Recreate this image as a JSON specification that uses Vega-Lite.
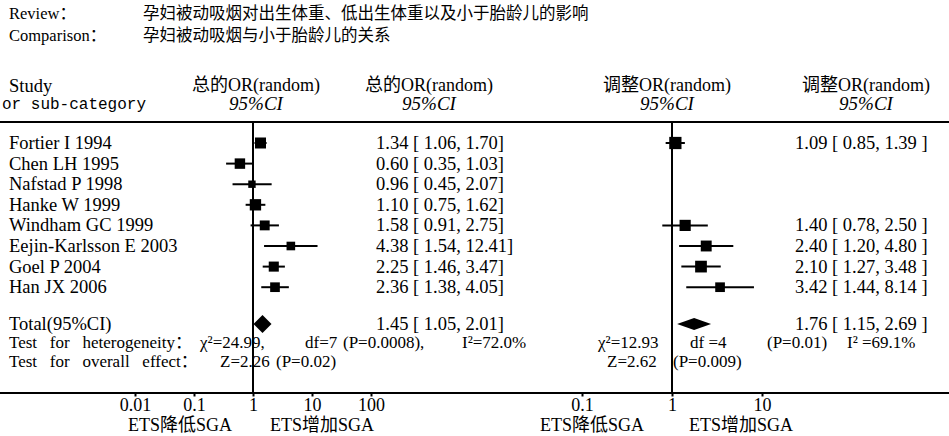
{
  "$schema": "https://vega.github.io/schema/vega-lite/v6.json",
  "width": 949,
  "height": 393,
  "autosize": {"type": "none"},
  "padding": {"left": 0, "top": 0, "right": 0, "bottom": 43},
  "background": "white",
  "config": {
    "view": {"stroke": null},
    "text": {"font": "Liberation Serif, Noto Sans CJK SC", "fontSize": 18.5, "color": "black", "baseline": "middle"}
  },
  "datasets": {
    "left": [
      {"study": "Fortier I 1994", "line": 5, "or": 1.34, "lo": 1.06, "hi": 1.70, "weight": 15.5, "label": "1.34 [ 1.06, 1.70]"},
      {"study": "Chen LH 1995", "line": 6, "or": 0.60, "lo": 0.35, "hi": 1.03, "weight": 14, "label": "0.60 [ 0.35, 1.03]"},
      {"study": "Nafstad P 1998", "line": 7, "or": 0.96, "lo": 0.45, "hi": 2.07, "weight": 7, "label": "0.96 [ 0.45, 2.07]"},
      {"study": "Hanke W 1999", "line": 8, "or": 1.10, "lo": 0.75, "hi": 1.62, "weight": 16.5, "label": "1.10 [ 0.75, 1.62]"},
      {"study": "Windham GC 1999", "line": 9, "or": 1.58, "lo": 0.91, "hi": 2.75, "weight": 12.5, "label": "1.58 [ 0.91, 2.75]"},
      {"study": "Eejin-Karlsson E 2003", "line": 10, "or": 4.38, "lo": 1.54, "hi": 12.41, "weight": 9.5, "label": "4.38 [ 1.54, 12.41]"},
      {"study": "Goel P 2004", "line": 11, "or": 2.25, "lo": 1.46, "hi": 3.47, "weight": 13, "label": "2.25 [ 1.46, 3.47]"},
      {"study": "Han JX 2006", "line": 12, "or": 2.36, "lo": 1.38, "hi": 4.05, "weight": 12, "label": "2.36 [ 1.38, 4.05]"}
    ],
    "right": [
      {"study": "Fortier I 1994", "line": 5, "or": 1.09, "lo": 0.85, "hi": 1.39, "weight": 24, "label": "1.09 [ 0.85, 1.39 ]"},
      {"study": "Windham GC 1999", "line": 9, "or": 1.40, "lo": 0.78, "hi": 2.50, "weight": 20, "label": "1.40 [ 0.78, 2.50 ]"},
      {"study": "Eejin-Karlsson E 2003", "line": 10, "or": 2.40, "lo": 1.20, "hi": 4.80, "weight": 19, "label": "2.40 [ 1.20, 4.80 ]"},
      {"study": "Goel P 2004", "line": 11, "or": 2.10, "lo": 1.27, "hi": 3.48, "weight": 22, "label": "2.10 [ 1.27, 3.48 ]"},
      {"study": "Han JX 2006", "line": 12, "or": 3.42, "lo": 1.44, "hi": 8.14, "weight": 15, "label": "3.42 [ 1.44, 8.14 ]"}
    ],
    "totals": [
      {"panel": "left", "line": 13, "or": 1.45, "lo": 1.05, "hi": 2.01},
      {"panel": "right", "line": 13, "or": 1.76, "lo": 1.15, "hi": 2.69}
    ],
    "rules": [{"line": 4}, {"line": 16}],
    "texts": [
      {"kind": "title", "line": 0, "col": 1, "text": "Review："},
      {"kind": "title", "line": 1, "col": 1, "text": "Comparison："},
      {"kind": "cjk", "line": 0, "col": 2, "text": "孕妇被动吸烟对出生体重、低出生体重以及小于胎龄儿的影响"},
      {"kind": "cjk", "line": 1, "col": 2, "text": "孕妇被动吸烟与小于胎龄儿的关系"},
      {"kind": "serif", "line": 2, "col": 1, "text": "Study"},
      {"kind": "mono", "line": 3, "col": 0, "text": "or sub-category"},
      {"kind": "header", "line": 2, "col": 6, "text": "总的OR(random)"},
      {"kind": "header", "line": 2, "col": 12, "text": "总的OR(random)"},
      {"kind": "header", "line": 2, "col": 17, "text": "调整OR(random)"},
      {"kind": "header", "line": 2, "col": 24, "text": "调整OR(random)"},
      {"kind": "ci", "line": 3, "col": 6, "text": "95%CI"},
      {"kind": "ci", "line": 3, "col": 12, "text": "95%CI"},
      {"kind": "ci", "line": 3, "col": 17, "text": "95%CI"},
      {"kind": "ci", "line": 3, "col": 24, "text": "95%CI"},
      {"kind": "serif", "line": 13, "col": 1, "text": "Total(95%CI)"},
      {"kind": "serif", "line": 13, "col": 11, "text": "1.45 [ 1.05, 2.01]"},
      {"kind": "serif", "line": 13, "col": 22, "text": "1.76 [ 1.15, 2.69 ]"},
      {"kind": "test", "line": 14, "col": 1, "text": "Test\u00a0\u00a0\u00a0for\u00a0\u00a0\u00a0heterogeneity："},
      {"kind": "test", "line": 14, "col": 4, "text": "χ²=24.99,"},
      {"kind": "test", "line": 14, "col": 8, "text": "df=7"},
      {"kind": "test", "line": 14, "col": 10, "text": "(P=0.0008),"},
      {"kind": "test", "line": 14, "col": 13, "text": "I²=72.0%"},
      {"kind": "test", "line": 14, "col": 15, "text": "χ²=12.93"},
      {"kind": "test", "line": 14, "col": 19, "text": "df =4"},
      {"kind": "test", "line": 14, "col": 21, "text": "(P=0.01)"},
      {"kind": "test", "line": 14, "col": 23, "text": "I² =69.1%"},
      {"kind": "test", "line": 15, "col": 1, "text": "Test\u00a0\u00a0\u00a0for\u00a0\u00a0\u00a0overall\u00a0\u00a0\u00a0effect："},
      {"kind": "test", "line": 15, "col": 5, "text": "Z=2.26"},
      {"kind": "test", "line": 15, "col": 7, "text": "(P=0.02)"},
      {"kind": "test", "line": 15, "col": 16, "text": "Z=2.62"},
      {"kind": "test", "line": 15, "col": 18, "text": "(P=0.009)"},
      {"kind": "ets", "line": 17, "col": 3, "text": "ETS降低SGA"},
      {"kind": "ets", "line": 17, "col": 9, "text": "ETS增加SGA"},
      {"kind": "ets", "line": 17, "col": 14, "text": "ETS降低SGA"},
      {"kind": "ets", "line": 17, "col": 20, "text": "ETS增加SGA"}
    ]
  },
  "layer": [
    {
      "layer": [
        {
          "data": {"name": "rules"},
          "mark": {"type": "rule", "color": "black", "strokeWidth": 2},
          "encoding": {
            "y": {"field": "line", "type": "quantitative", "axis": null, "scale": {"domain": [0,1,2,3,4,5,6,7,8,9,10,11,12,13,14,15,16,17], "range": [14,36,86,104,122,143,163.6,184.2,204.8,225.4,246,266.6,287.2,324,343,362,393,426], "zero": false, "nice": false}}
          }
        },
        {
          "data": {"name": "texts"},
          "transform": [{"filter": "datum.kind === 'serif'"}],
          "mark": {"type": "text", "align": "left"},
          "encoding": {
            "x": {"field": "col", "type": "quantitative", "axis": null, "scale": {"domain": [0,1,2,3,4,5,6,7,8,9,10,11,12,13,14,15,16,17,18,19,20,21,22,23,24], "range": [2,9,143,180,200,220,256,276,305,322,343,376,429,462,592,598,607,667,673,690,741,767,795,847,866], "zero": false, "nice": false}},
            "y": {"field": "line", "type": "quantitative", "axis": null, "scale": {"domain": [0,1,2,3,4,5,6,7,8,9,10,11,12,13,14,15,16,17], "range": [14,36,86,104,122,143,163.6,184.2,204.8,225.4,246,266.6,287.2,324,343,362,393,426], "zero": false, "nice": false}},
            "text": {"field": "text"}
          }
        },
        {
          "data": {"name": "texts"},
          "transform": [{"filter": "datum.kind === 'test'"}],
          "mark": {"type": "text", "align": "left", "fontSize": 17},
          "encoding": {
            "x": {"field": "col", "type": "quantitative"},
            "y": {"field": "line", "type": "quantitative"},
            "text": {"field": "text"}
          }
        },
        {
          "data": {"name": "texts"},
          "transform": [{"filter": "datum.kind === 'title'"}],
          "mark": {"type": "text", "align": "left", "fontSize": 16.5},
          "encoding": {
            "x": {"field": "col", "type": "quantitative"},
            "y": {"field": "line", "type": "quantitative"},
            "text": {"field": "text"}
          }
        },
        {
          "data": {"name": "texts"},
          "transform": [{"filter": "datum.kind === 'cjk'"}],
          "mark": {"type": "text", "align": "left", "font": "Noto Sans CJK SC", "fontSize": 16.5},
          "encoding": {
            "x": {"field": "col", "type": "quantitative"},
            "y": {"field": "line", "type": "quantitative"},
            "text": {"field": "text"}
          }
        },
        {
          "data": {"name": "texts"},
          "transform": [{"filter": "datum.kind === 'mono'"}],
          "mark": {"type": "text", "align": "left", "font": "Liberation Mono", "fontSize": 16},
          "encoding": {
            "x": {"field": "col", "type": "quantitative"},
            "y": {"field": "line", "type": "quantitative"},
            "text": {"field": "text"}
          }
        },
        {
          "data": {"name": "texts"},
          "transform": [{"filter": "datum.kind === 'header'"}],
          "mark": {"type": "text", "align": "center", "fontSize": 18},
          "encoding": {
            "x": {"field": "col", "type": "quantitative"},
            "y": {"field": "line", "type": "quantitative"},
            "text": {"field": "text"}
          }
        },
        {
          "data": {"name": "texts"},
          "transform": [{"filter": "datum.kind === 'ci'"}],
          "mark": {"type": "text", "align": "center", "fontSize": 19, "fontStyle": "italic"},
          "encoding": {
            "x": {"field": "col", "type": "quantitative"},
            "y": {"field": "line", "type": "quantitative"},
            "text": {"field": "text"}
          }
        },
        {
          "data": {"name": "texts"},
          "transform": [{"filter": "datum.kind === 'ets'"}],
          "mark": {"type": "text", "align": "center", "fontSize": 18},
          "encoding": {
            "x": {"field": "col", "type": "quantitative"},
            "y": {"field": "line", "type": "quantitative"},
            "text": {"field": "text"}
          }
        },
        {
          "data": {"name": "left"},
          "mark": {"type": "text", "align": "left"},
          "encoding": {
            "x": {"datum": 1, "type": "quantitative"},
            "y": {"field": "line", "type": "quantitative"},
            "text": {"field": "study"}
          }
        },
        {
          "data": {"name": "left"},
          "mark": {"type": "text", "align": "left"},
          "encoding": {
            "x": {"datum": 11, "type": "quantitative"},
            "y": {"field": "line", "type": "quantitative"},
            "text": {"field": "label"}
          }
        },
        {
          "data": {"name": "right"},
          "mark": {"type": "text", "align": "left"},
          "encoding": {
            "x": {"datum": 22, "type": "quantitative"},
            "y": {"field": "line", "type": "quantitative"},
            "text": {"field": "label"}
          }
        }
      ]
    },
    {
      "layer": [
        {
          "data": {"values": [{}]},
          "mark": {"type": "rule", "color": "black", "strokeWidth": 2},
          "encoding": {
            "x": {"datum": 1, "type": "quantitative", "scale": {"type": "log", "domain": [0.01, 100], "range": [135, 371]},
              "axis": {"orient": "bottom", "values": [0.01, 0.1, 1, 10, 100], "format": "~g", "domain": false, "grid": false, "title": null, "ticks": true, "tickSize": 3, "tickWidth": 2, "tickColor": "black", "labelFont": "Liberation Serif", "labelFontSize": 18, "labelColor": "black", "labelPadding": 0, "labelFlush": false, "labelOverlap": false, "labelBound": false}},
            "y": {"datum": 4, "type": "quantitative"},
            "y2": {"datum": 16}
          }
        },
        {
          "data": {"name": "left"},
          "mark": {"type": "rule", "color": "black", "strokeWidth": 2},
          "encoding": {
            "x": {"field": "lo", "type": "quantitative"},
            "x2": {"field": "hi"},
            "y": {"field": "line", "type": "quantitative"}
          }
        },
        {
          "data": {"name": "left"},
          "mark": {"type": "point", "shape": "square", "filled": true, "color": "black", "opacity": 1},
          "encoding": {
            "x": {"field": "or", "type": "quantitative"},
            "y": {"field": "line", "type": "quantitative"},
            "size": {"field": "weight", "type": "quantitative", "scale": {"domain": [0, 16], "range": [0, 125]}, "legend": null}
          }
        },
        {
          "data": {"name": "totals"},
          "transform": [{"filter": "datum.panel === 'left'"}],
          "mark": {"type": "point", "shape": "M-1,0L0,-1L1,0L0,1Z", "filled": true, "color": "black", "opacity": 1, "size": 324},
          "encoding": {
            "x": {"field": "or", "type": "quantitative"},
            "y": {"field": "line", "type": "quantitative"}
          }
        }
      ]
    },
    {
      "layer": [
        {
          "data": {"values": [{}]},
          "mark": {"type": "rule", "color": "black", "strokeWidth": 2},
          "encoding": {
            "x": {"datum": 1, "type": "quantitative", "scale": {"type": "log", "domain": [0.1, 10], "range": [582, 762]},
              "axis": {"orient": "bottom", "values": [0.1, 1, 10], "format": "~g", "domain": false, "grid": false, "title": null, "ticks": true, "tickSize": 3, "tickWidth": 2, "tickColor": "black", "labelFont": "Liberation Serif", "labelFontSize": 18, "labelColor": "black", "labelPadding": 0, "labelFlush": false, "labelOverlap": false, "labelBound": false}},
            "y": {"datum": 4, "type": "quantitative"},
            "y2": {"datum": 16}
          }
        },
        {
          "data": {"name": "right"},
          "mark": {"type": "rule", "color": "black", "strokeWidth": 2},
          "encoding": {
            "x": {"field": "lo", "type": "quantitative"},
            "x2": {"field": "hi"},
            "y": {"field": "line", "type": "quantitative"}
          }
        },
        {
          "data": {"name": "right"},
          "mark": {"type": "point", "shape": "square", "filled": true, "color": "black", "opacity": 1},
          "encoding": {
            "x": {"field": "or", "type": "quantitative"},
            "y": {"field": "line", "type": "quantitative"},
            "size": {"field": "weight", "type": "quantitative", "scale": {"domain": [0, 24], "range": [0, 150]}, "legend": null}
          }
        },
        {
          "data": {"name": "totals"},
          "transform": [{"filter": "datum.panel === 'right'"}],
          "mark": {"type": "point", "shape": "M-1,0L0,-0.36L1,0L0,0.36Z", "filled": true, "color": "black", "opacity": 1, "size": 1156},
          "encoding": {
            "x": {"field": "or", "type": "quantitative"},
            "y": {"field": "line", "type": "quantitative"}
          }
        }
      ]
    }
  ],
  "resolve": {"scale": {"x": "independent", "size": "independent"}, "axis": {"x": "independent"}}
}
